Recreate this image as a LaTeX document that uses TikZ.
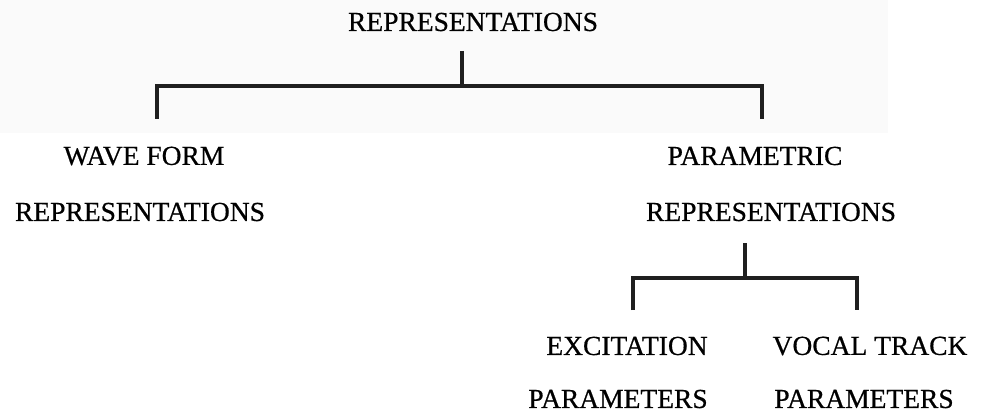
\documentclass[tikz,border=0pt]{standalone}
\usepackage{fontspec}
\setmainfont{Liberation Serif}[FakeBold=0.6]
\begin{document}
\begin{tikzpicture}[x=1pt,y=-1pt,
  lbl/.style={inner sep=0pt, anchor=center, font=\fontsize{27.5}{30}\selectfont},
  tree/.style={line width=4pt, line join=miter, line cap=butt, draw=black!88}]
% canvas and the pale band behind the top level
\useasboundingbox (0,0) rectangle (990,414);
\fill[white] (0,0) rectangle (990,414);
\fill[black!2] (0,0) rectangle (888,133);

% labels
\node[lbl] (root) at (473,22) {REPRESENTATIONS};
\node[lbl] (wave1) at (144,156) {WAVE FORM};
\node[lbl] (wave2) at (140,212) {REPRESENTATIONS};
\node[lbl] (para1) at (755,156) {PARAMETRIC};
\node[lbl] (para2) at (771,212) {REPRESENTATIONS};
\node[lbl] (exc1) at (627,346) {EXCITATION};
\node[lbl] (exc2) at (618,399) {PARAMETERS};
\node[lbl] (voc1) at (870,346) {VOCAL TRACK};
\node[lbl] (voc2) at (864,399) {PARAMETERS};

% junction points of the brackets
\coordinate (rs) at (462,51);
\coordinate (rj) at (462,86);
\coordinate (rl) at (157,86);
\coordinate (rr) at (762,86);
\coordinate (wl) at (157,119);
\coordinate (pr) at (762,119);
\coordinate (ps) at (745,243);
\coordinate (pj) at (745,278);
\coordinate (el) at (633,278);
\coordinate (vr) at (857,278);
\coordinate (ed) at (633,310);
\coordinate (vd) at (857,310);

% top-level bracket
\draw[tree] (rs) -- (rj);
\draw[tree] (wl) -- (rl) -- (rr) -- (pr);
% bracket under the parametric branch
\draw[tree] (ps) -- (pj);
\draw[tree] (ed) -- (el) -- (vr) -- (vd);
\end{tikzpicture}
\end{document}
